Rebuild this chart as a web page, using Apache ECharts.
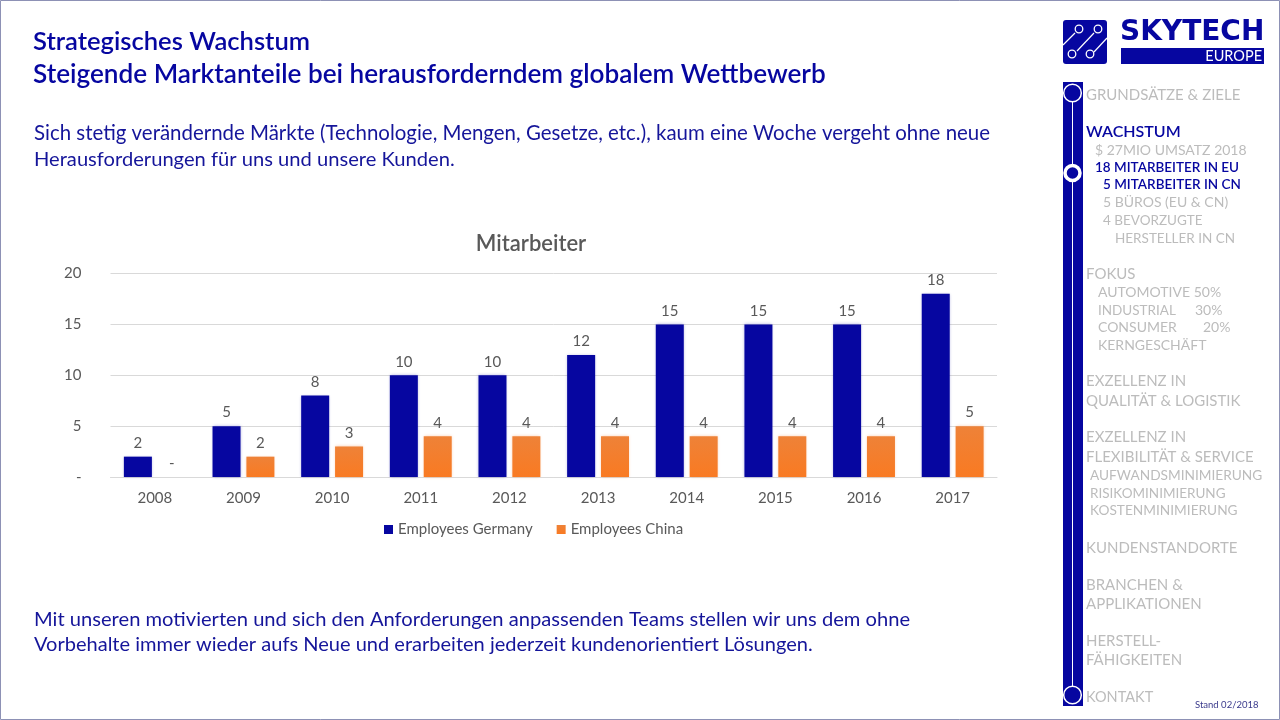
<!DOCTYPE html>
<html>
<head>
<meta charset="utf-8">
<title>Mitarbeiter</title>
<script src="https://cdn.jsdelivr.net/npm/echarts@6/dist/echarts.min.js"></script>
<style>
html, body { margin: 0; padding: 0; background: #fff; }
#main { width: 1280px; height: 720px; }
</style>
</head>
<body>
<div id="main"></div>
<script>
var years = ['2008', '2009', '2010', '2011', '2012', '2013', '2014', '2015', '2016', '2017'];
var employeesGermany = [2, 5, 8, 10, 10, 12, 15, 15, 15, 18];
var employeesChina = [0, 2, 3, 4, 4, 4, 4, 4, 4, 5];

var blue = '#0606a0';
var grey = '#595959';
var menuGrey = '#bcbcbc';
var font = 'Lato';

// [text, x, baseline middle y, size, active]
var menu = [
	['GRUNDSÄTZE & ZIELE', 1086, 95, 15, 0],
	['WACHSTUM', 1086, 132, 16, 1],
	['$ 27MIO UMSATZ 2018', 1095, 150, 14, 0],
	['18 MITARBEITER IN EU', 1095, 168, 13.5, 1],
	['5 MITARBEITER IN CN', 1103, 185, 13.5, 1],
	['5 BÜROS (EU & CN)', 1103, 202, 14, 0],
	['4 BEVORZUGTE', 1103, 220.5, 13.5, 0],
	['HERSTELLER IN CN', 1115, 238.5, 13.5, 0],
	['FOKUS', 1086, 274, 15, 0],
	['AUTOMOTIVE 50%', 1098, 292, 14, 0],
	['INDUSTRIAL', 1098, 310.5, 13.5, 0],
	['30%', 1195, 310, 14, 0],
	['CONSUMER', 1098, 327, 14, 0],
	['20%', 1203, 327, 14, 0],
	['KERNGESCHÄFT', 1098, 345, 14, 0],
	['EXZELLENZ IN', 1086, 381, 15, 0],
	['QUALITÄT & LOGISTIK', 1086, 401, 15, 0],
	['EXZELLENZ IN', 1086, 437, 15, 0],
	['FLEXIBILITÄT & SERVICE', 1086, 457, 15, 0],
	['AUFWANDSMINIMIERUNG', 1090, 476, 13.7, 0],
	['RISIKOMINIMIERUNG', 1090, 494, 13.5, 0],
	['KOSTENMINIMIERUNG', 1090, 511, 13.7, 0],
	['KUNDENSTANDORTE', 1086, 548, 15, 0],
	['BRANCHEN &', 1086, 585, 15, 0],
	['APPLIKATIONEN', 1086, 604, 15, 0],
	['HERSTELL-', 1086, 641, 15, 0],
	['FÄHIGKEITEN', 1086, 660, 15, 0],
	['KONTAKT', 1086, 697, 14.5, 0]
];

// [text, y, size]
var bodyLines = [
	['Sich stetig verändernde Märkte (Technologie, Mengen, Gesetze, etc.), kaum eine Woche vergeht ohne neue', 133, 20.45],
	['Herausforderungen für uns und unsere Kunden.', 159, 20.15],
	['Mit unseren motivierten und sich den Anforderungen anpassenden Teams stellen wir uns dem ohne', 619, 20.15],
	['Vorbehalte immer wieder aufs Neue und erarbeiten jederzeit kundenorientiert Lösungen.', 645, 20.05]
];

var headLines = [
	['Strategisches Wachstum', 42, 25.6],
	['Steigende Marktanteile bei herausforderndem globalem Wettbewerb', 75, 26.15]
];

function txt(s, x, y, size, color, weight) {
	return {
		type: 'text', silent: true,
		style: { text: s, x: x, y: y, font: (weight || 'normal') + ' ' + size + 'px ' + font, fill: color, textVerticalAlign: 'middle' }
	};
}

var gfx = [];
// Rahmen
gfx.push({ type: 'rect', silent: true, shape: { x: 0.5, y: 0.5, width: 1279, height: 719 }, style: { fill: 'none', stroke: '#8d91b5', lineWidth: 1 } });

headLines.forEach(function(h) { gfx.push(txt(h[0], 33, h[1], h[2], blue, '600')); });
bodyLines.forEach(function(b) { gfx.push(txt(b[0], 34, b[1], b[2], '#15159a')); });

// Logo
gfx.push({ type: 'rect', silent: true, shape: { x: 1063, y: 20, width: 44, height: 44, r: 3 }, style: { fill: blue } });
[[[1063, 45], [1075, 33]], [[1077, 51], [1094, 33]], [[1094, 52], [1107, 38]]].forEach(function(l) {
	gfx.push({ type: 'line', silent: true, shape: { x1: l[0][0], y1: l[0][1], x2: l[1][0], y2: l[1][1] }, style: { stroke: '#fff', lineWidth: 1.2 } });
});
[[1079, 29], [1098, 29], [1072, 54], [1090, 54]].forEach(function(c) {
	gfx.push({ type: 'circle', silent: true, shape: { cx: c[0], cy: c[1], r: 3.8 }, style: { fill: blue, stroke: '#fff', lineWidth: 1.3 } });
});
gfx.push({
	type: 'text', silent: true,
	style: { text: 'SKYTECH', x: 1120, y: 33, font: 'bold 28px "DejaVu Sans"', fill: blue, textVerticalAlign: 'middle' }
});
gfx.push({ type: 'rect', silent: true, shape: { x: 1121, y: 48, width: 143, height: 16 }, style: { fill: blue } });
gfx.push({
	type: 'text', silent: true,
	style: { text: 'EUROPE', x: 1262, y: 56, font: '14.5px ' + font, fill: '#fff', textAlign: 'right', textVerticalAlign: 'middle' }
});

// Navigation
gfx.push({ type: 'rect', silent: true, shape: { x: 1063, y: 82, width: 20, height: 624 }, style: { fill: blue } });
gfx.push({ type: 'line', silent: true, shape: { x1: 1072.5, y1: 100, x2: 1072.5, y2: 688 }, style: { stroke: '#fff', lineWidth: 1 } });
[[93, 8.8, 1.5], [173, 7.5, 3.5], [695, 8.8, 1.5]].forEach(function(c) {
	gfx.push({ type: 'circle', silent: true, shape: { cx: 1072.5, cy: c[0], r: c[1] }, style: { fill: blue, stroke: '#fff', lineWidth: c[2] } });
});
menu.forEach(function(m) {
	gfx.push(txt(m[0], m[1], m[2], m[3], m[4] ? blue : menuGrey, m[4] ? '600' : 'normal'));
});
gfx.push(txt('Stand 02/2018', 1195, 705, 9.5, '#3a3a8c'));

function zeroDash(v) { return v === 0 ? '-' : String(v); }

var chart = echarts.init(document.getElementById('main'), null, { renderer: 'canvas' });
chart.setOption({
	animation: false,
	backgroundColor: '#fff',
	textStyle: { fontFamily: font },
	title: {
		text: 'Mitarbeiter', left: 526, top: 228, textAlign: 'center',
		textStyle: { fontFamily: font, fontSize: 22, fontWeight: '600', color: grey }
	},
	legend: {
		data: ['Employees Germany', 'Employees China'],
		left: 384, top: 522, itemWidth: 9, itemHeight: 9, itemGap: 24,
		icon: 'rect',
		textStyle: { fontFamily: font, fontSize: 15, color: grey },
		padding: [0, 0, 0, 0]
	},
	grid: { left: 110.5, right: 283, top: 273.5, bottom: 243 },
	xAxis: {
		type: 'category', data: years,
		axisLine: { lineStyle: { color: '#d9d9d9' } },
		axisTick: { show: false },
		axisLabel: { fontFamily: font, fontSize: 15, color: grey, margin: 14 }
	},
	yAxis: {
		type: 'value', min: 0, max: 20, interval: 5,
		axisLine: { show: false }, axisTick: { show: false },
		splitLine: { lineStyle: { color: '#d9d9d9' } },
		axisLabel: { fontFamily: font, fontSize: 15, color: grey, margin: 29, formatter: zeroDash }
	},
	series: [{
		name: 'Employees Germany', type: 'bar', data: employeesGermany,
		barWidth: 28, barGap: '21%',
		itemStyle: { color: blue, shadowColor: 'rgba(6,6,160,0.3)', shadowBlur: 3 },
		label: { show: true, position: 'top', distance: 6, fontFamily: font, fontSize: 15, color: grey, formatter: function(p) { return zeroDash(p.value); } }
	}, {
		name: 'Employees China', type: 'bar', data: employeesChina,
		barWidth: 28,
		itemStyle: {
			color: new echarts.graphic.LinearGradient(0, 0, 0, 1, [{ offset: 0, color: '#ee8238' }, { offset: 1, color: '#f97a22' }]),
			shadowColor: 'rgba(244,123,44,0.35)', shadowBlur: 3
		},
		label: { show: true, position: 'top', distance: 6, fontFamily: font, fontSize: 15, color: grey, formatter: function(p) { return zeroDash(p.value); } }
	}],
	graphic: gfx
});
</script>
</body>
</html>
